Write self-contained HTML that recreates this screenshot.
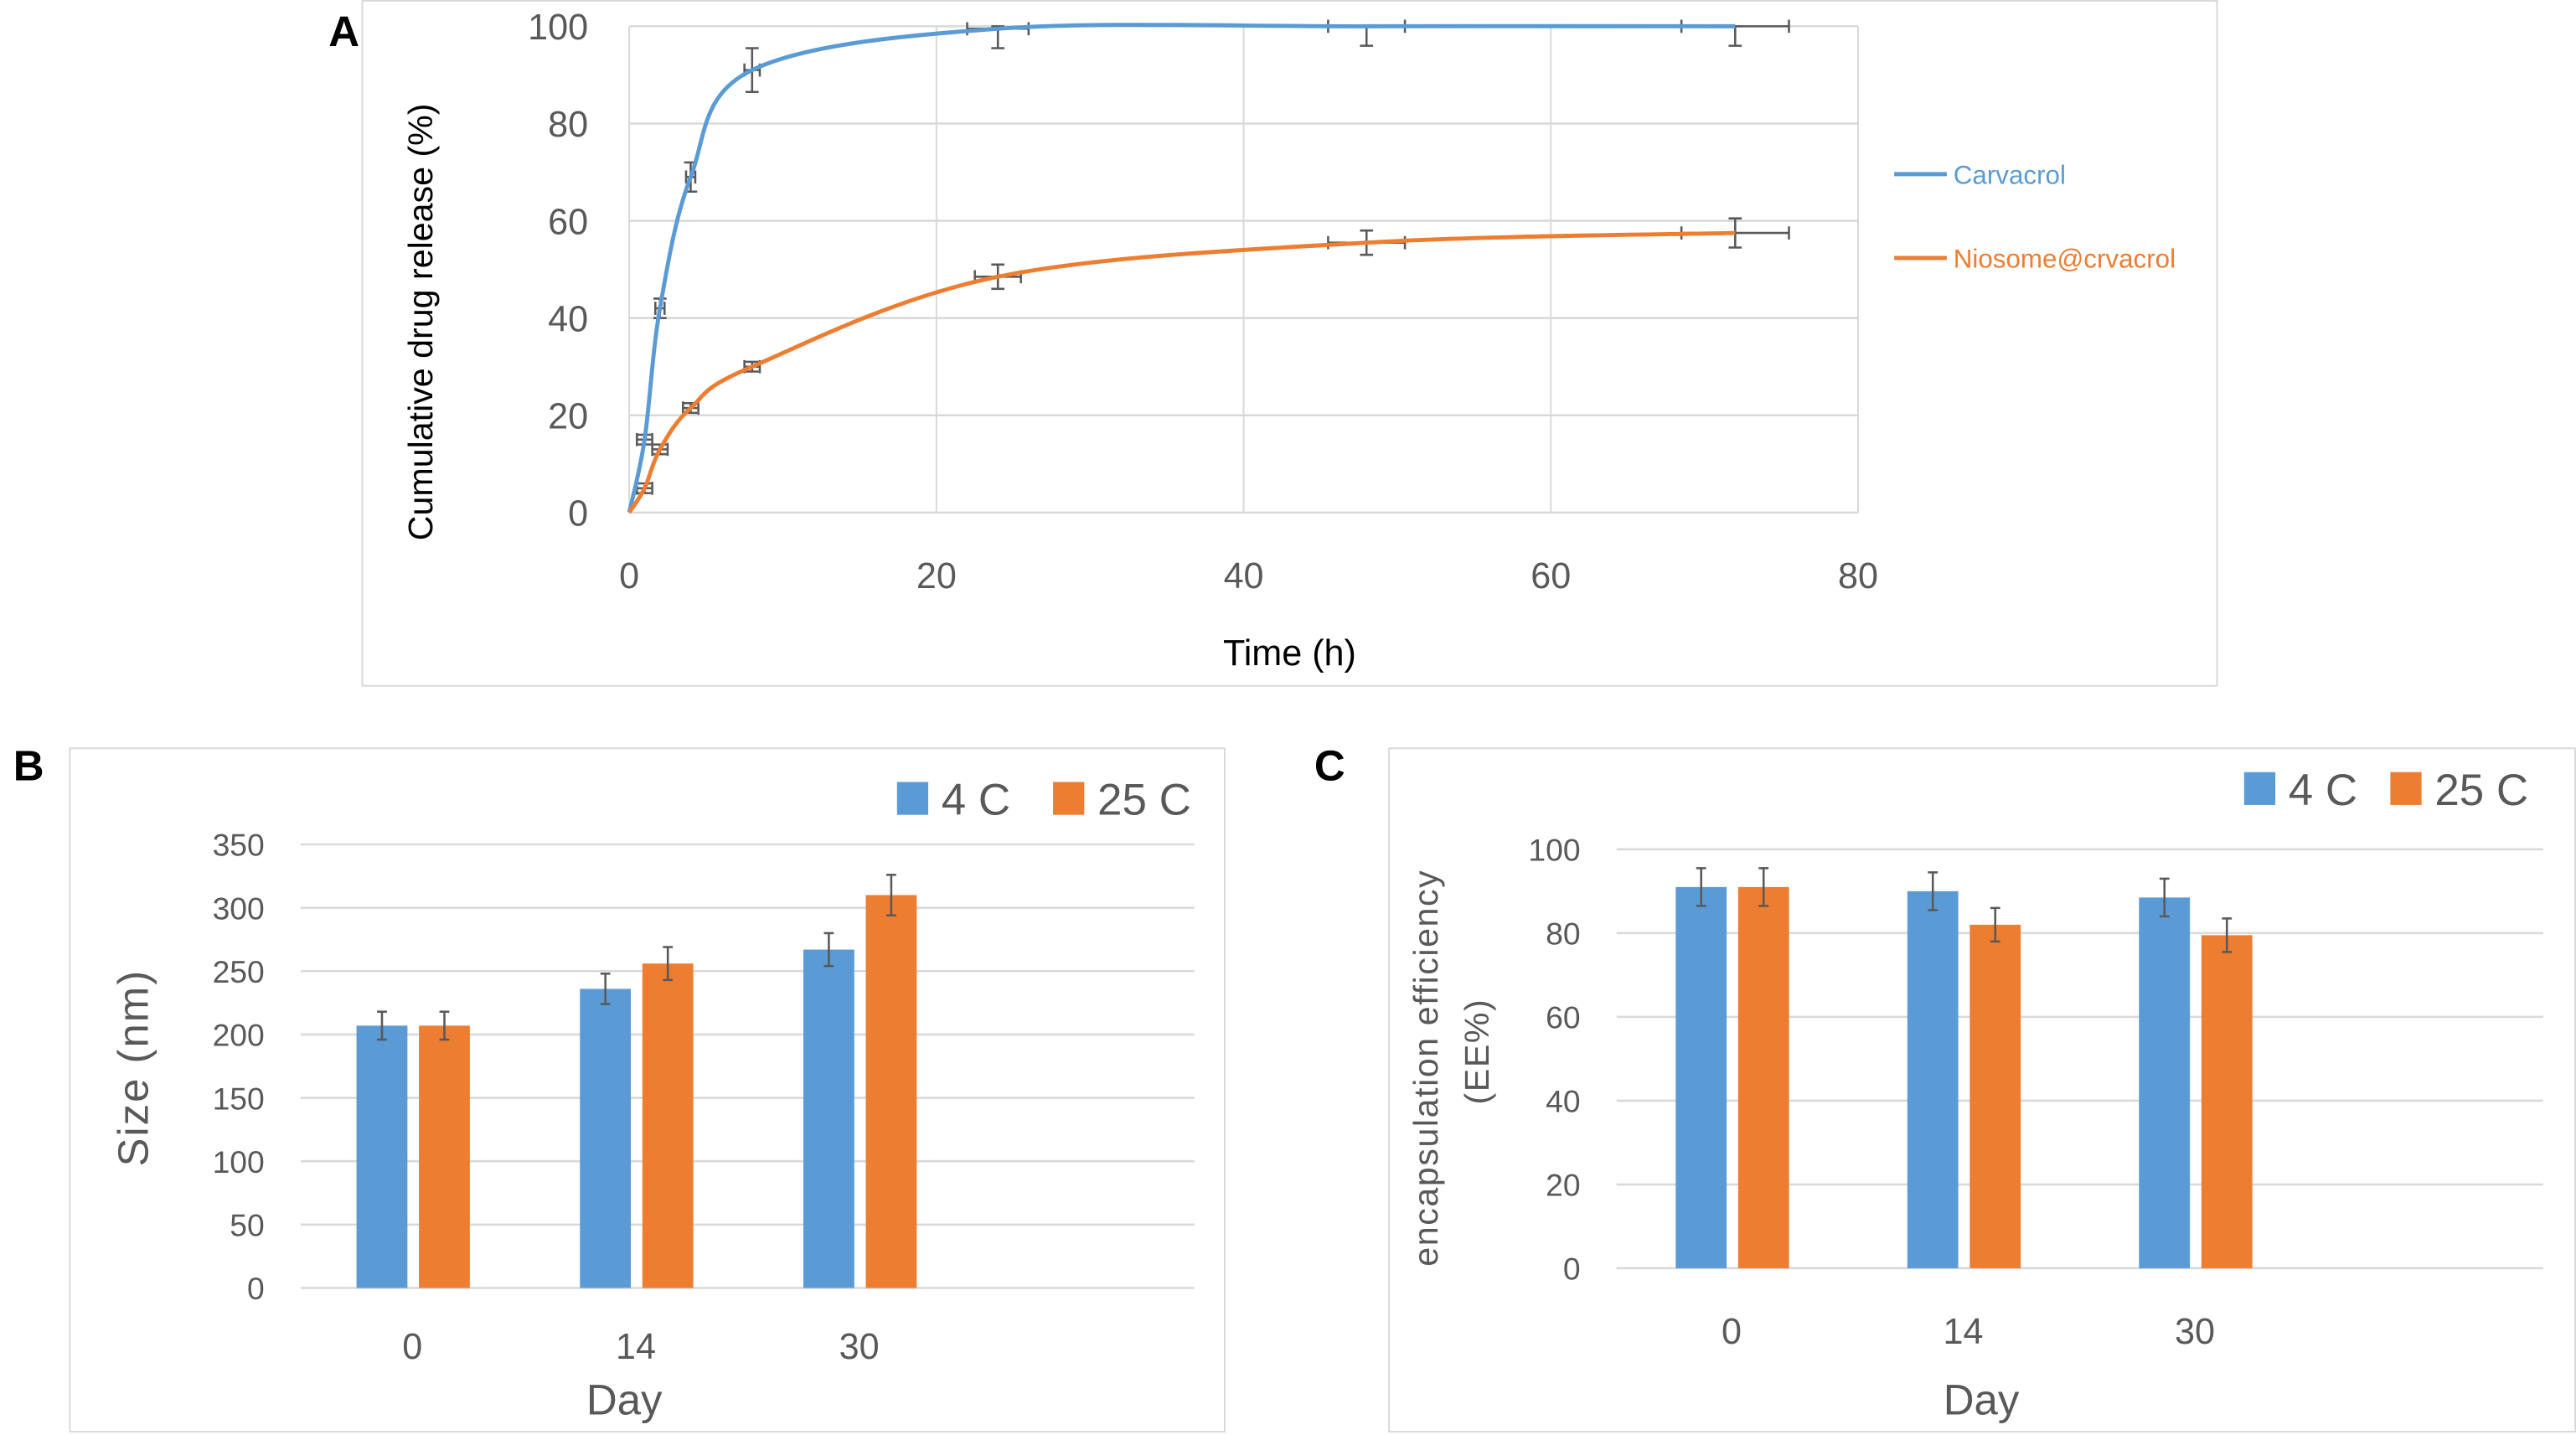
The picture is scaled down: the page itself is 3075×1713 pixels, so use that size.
<!DOCTYPE html>
<html><head><meta charset="utf-8"><style>
html,body{margin:0;padding:0;background:#fff;}
svg{display:block;}
text{font-family:"Liberation Sans",sans-serif;}
</style></head><body>
<svg id="fig" width="3075" height="1713" viewBox="0 0 1568 873.5" xmlns="http://www.w3.org/2000/svg">
<rect x="0" y="0" width="1568" height="873.5" fill="#fff"/>
<g id="pa"></g>
<g id="pb"></g>
<g id="pc"></g>
</svg>
<script>
// Panel A data
const timeH = [0,1,2,4,8,24,48,72];
const carvacrol = [0,15,42,69,91,99.5,100,100];
const carvacrolErr = [0,1,2,3,4.5,4,4,4];
const carvacrolXErr = [0,0.5,0.3,0.3,0.5,2,2.5,3.5];
const niosome = [0,5,13,21.5,30,48.5,55.5,57.5];
const niosomeErr = [0,1,1,1,1,2.5,2.5,3];
const niosomeXErr = [0,0.5,0.5,0.5,0.5,1.5,2.5,3.5];
const aYTicks = [0,20,40,60,80,100];
const aXTicks = [0,20,40,60,80];
// Panel B data
const days = ["0","14","30"];
const size4C = [207,236,267];
const size25C = [207,256,310];
const size4CErr = [11,12,13];
const size25CErr = [11,13,16];
const bYTicks = [0,50,100,150,200,250,300,350];
// Panel C data
const ee4C = [91,90,88.5];
const ee25C = [91,82,79.5];
const ee4CErr = [4.5,4.5,4.5];
const ee25CErr = [4.5,4,4];
const cYTicks = [0,20,40,60,80,100];

const NS="http://www.w3.org/2000/svg";
const BLUE="#5b9bd5", ORANGE="#ed7d31", GRID="#d9d9d9", TXT="#595959", EB="#595959";
function mk(parent,tag,attrs,txt){const e=document.createElementNS(NS,tag);for(const k in attrs)e.setAttribute(k,attrs[k]);if(txt!==undefined)e.textContent=txt;parent.appendChild(e);return e;}

// ---------- Panel A ----------
const pa=document.getElementById('pa');
let fr=mk(pa,'rect',{x:220.5,y:0.5,width:1129,height:417,fill:'none',stroke:'#d9d9d9','stroke-width':1});

const ax=v=>383+(v/80)*(1131-383);
const ay=v=>312-(v/100)*(312-16);
aYTicks.forEach(v=>{
  const l=mk(pa,'line',{x1:383,x2:1131,y1:ay(v),y2:ay(v),stroke:GRID,'stroke-width':1.3});
  
  const t=mk(pa,'text',{x:358,y:ay(v)+8,'text-anchor':'end','font-size':22,fill:TXT},v);
  
});
aXTicks.forEach(v=>{
  const l=mk(pa,'line',{x1:ax(v),x2:ax(v),y1:ay(0),y2:ay(100),stroke:GRID,'stroke-width':1});
  
  const t=mk(pa,'text',{x:ax(v),y:358,'text-anchor':'middle','font-size':22,fill:TXT},v);
  
});
function smooth(xs,ys){
  const p=xs.map((x,i)=>[ax(x),ay(ys[i])]);
  let d=`M${p[0][0]},${p[0][1]}`;
  for(let i=0;i<p.length-1;i++){
    const p0=p[i-1]||p[i],p1=p[i],p2=p[i+1],p3=p[i+2]||p2;
    const c1=[p1[0]+(p2[0]-p0[0])/6,p1[1]+(p2[1]-p0[1])/6];
    const c2=[p2[0]-(p3[0]-p1[0])/6,p2[1]-(p3[1]-p1[1])/6];
    d+=` C${c1[0]},${c1[1]} ${c2[0]},${c2[1]} ${p2[0]},${p2[1]}`;
  }
  return d;
}
function errA(ys,ye,xe,name){
  timeH.forEach((t,i)=>{
    if(i===0)return;
    const x=ax(t),y=ay(ys[i]);
    const g=mk(pa,'g',{stroke:EB,'stroke-width':1.3,fill:'none'});
    
    const top=Math.max(ay(ys[i]+ye[i]),ay(100)),bot=ay(ys[i]-ye[i]);
    mk(g,'line',{x1:x,x2:x,y1:top,y2:bot});
    mk(g,'line',{x1:x-4,x2:x+4,y1:top,y2:top});
    mk(g,'line',{x1:x-4,x2:x+4,y1:bot,y2:bot});
    const xl=ax(t-xe[i]),xr=ax(t+xe[i]);
    mk(g,'line',{x1:xl,x2:xr,y1:y,y2:y});
    mk(g,'line',{x1:xl,x2:xl,y1:y-4,y2:y+4});
    mk(g,'line',{x1:xr,x2:xr,y1:y-4,y2:y+4});
  });
}
errA(carvacrol,carvacrolErr,carvacrolXErr,'carvacrol-error-bar');
errA(niosome,niosomeErr,niosomeXErr,'niosome-error-bar');
let ln=mk(pa,'path',{d:smooth(timeH,carvacrol),fill:'none',stroke:BLUE,'stroke-width':2.5});

ln=mk(pa,'path',{d:smooth(timeH,niosome),fill:'none',stroke:ORANGE,'stroke-width':2.5});

let t;
t=mk(pa,'text',{x:785,y:405,'text-anchor':'middle','font-size':22,fill:'#000'},'Time (h)');

t=mk(pa,'text',{x:0,y:0,transform:'translate(263,196) rotate(-90)','text-anchor':'middle','font-size':21,fill:'#000'},'Cumulative drug release (%)');

t=mk(pa,'text',{x:200,y:28,'font-size':26,'font-weight':'bold',fill:'#000'},'A');

[[106,BLUE,'Carvacrol','legend-carvacrol'],[157,ORANGE,'Niosome@crvacrol','legend-niosome']].forEach(([y,c,s,n])=>{
  const g=mk(pa,'g',{});
  mk(g,'line',{x1:1153,x2:1185,y1:y,y2:y,stroke:c,'stroke-width':2.5});
  mk(g,'text',{x:1189,y:y+6,'font-size':16,fill:c},s);
});

// ---------- bar panels ----------
function barPanel(pid,o){
  const p=document.getElementById(pid);
  const f=mk(p,'rect',{x:o.fx,y:455.5,width:o.fw,height:416,fill:'none',stroke:'#d9d9d9','stroke-width':1});
  
  const yy=v=>o.y0-(v/o.ymax)*(o.y0-o.ytop);
  o.ticks.forEach(v=>{
    const l=mk(p,'line',{x1:o.gx0,x2:o.gx1,y1:yy(v),y2:yy(v),stroke:GRID,'stroke-width':1.3});
    
    const tt=mk(p,'text',{x:o.tickX,y:yy(v)+7,'text-anchor':'end','font-size':19,fill:TXT},v);
    
  });
  days.forEach((d,i)=>{
    const cx=o.cat0+i*o.catStep;
    [[o.s1,o.e1,BLUE,-1,'bar-4c'],[o.s2,o.e2,ORANGE,1,'bar-25c']].forEach(([s,e,c,side,n])=>{
      const x=side<0?cx-34:cx+4, w=31;
      const r=mk(p,'rect',{x:x,y:yy(s[i]),width:w,height:o.y0-yy(s[i]),fill:c});
      
      const mx=x+w/2,top=yy(s[i]+e[i]),bot=yy(s[i]-e[i]);
      const g=mk(p,'g',{stroke:EB,'stroke-width':1.3});
      
      mk(g,'line',{x1:mx,x2:mx,y1:top,y2:bot});
      mk(g,'line',{x1:mx-3,x2:mx+3,y1:top,y2:top});
      mk(g,'line',{x1:mx-3,x2:mx+3,y1:bot,y2:bot});
    });
    const tl=mk(p,'text',{x:cx,y:o.catY,'text-anchor':'middle','font-size':22,fill:TXT},d);
    
  });
  const dx=mk(p,'text',{x:o.dayX,y:861,'text-anchor':'middle','font-size':26,fill:TXT},'Day');
  
  [[o.lg1,BLUE,'4 C','legend-4c'],[o.lg2,ORANGE,'25 C','legend-25c']].forEach(([x,c,s,n])=>{
    const g=mk(p,'g',{});
    mk(g,'rect',{x:x,y:o.lgY,width:19,height:20,fill:c});
    mk(g,'text',{x:x+27,y:o.lgY+20,'font-size':27,fill:TXT},s);
  });
  const pl=mk(p,'text',{x:o.plx,y:475,'font-size':26,'font-weight':'bold',fill:'#000'},o.label);
  
  return p;
}
const pb=barPanel('pb',{fx:42.5,fw:703,y0:784,ytop:514,ymax:350,ticks:bYTicks,gx0:183,gx1:727,tickX:161,
  cat0:251,catStep:136,s1:size4C,s2:size25C,e1:size4CErr,e2:size25CErr,catY:827,dayX:380,
  lg1:546,lg2:641,lgY:476,plx:8,label:'B'});
t=mk(pb,'text',{x:0,y:0,transform:'translate(90,650) rotate(-90)','text-anchor':'middle','font-size':26,fill:TXT,'letter-spacing':1},'Size (nm)');

const pc=barPanel('pc',{fx:845.5,fw:722,y0:772,ytop:517,ymax:100,ticks:cYTicks,gx0:984,gx1:1548,tickX:962,
  cat0:1054,catStep:141,s1:ee4C,s2:ee25C,e1:ee4CErr,e2:ee25CErr,catY:818,dayX:1206,
  lg1:1366,lg2:1455,lgY:470,plx:800,label:'C'});
t=mk(pc,'text',{x:0,y:0,transform:'translate(875,650) rotate(-90)','text-anchor':'middle','font-size':21,fill:TXT,'letter-spacing':0.8},'encapsulation efficiency');

t=mk(pc,'text',{x:0,y:0,transform:'translate(906,640) rotate(-90)','text-anchor':'middle','font-size':21,fill:TXT,'letter-spacing':0.8},'(EE%)');

</script>
</body></html>
